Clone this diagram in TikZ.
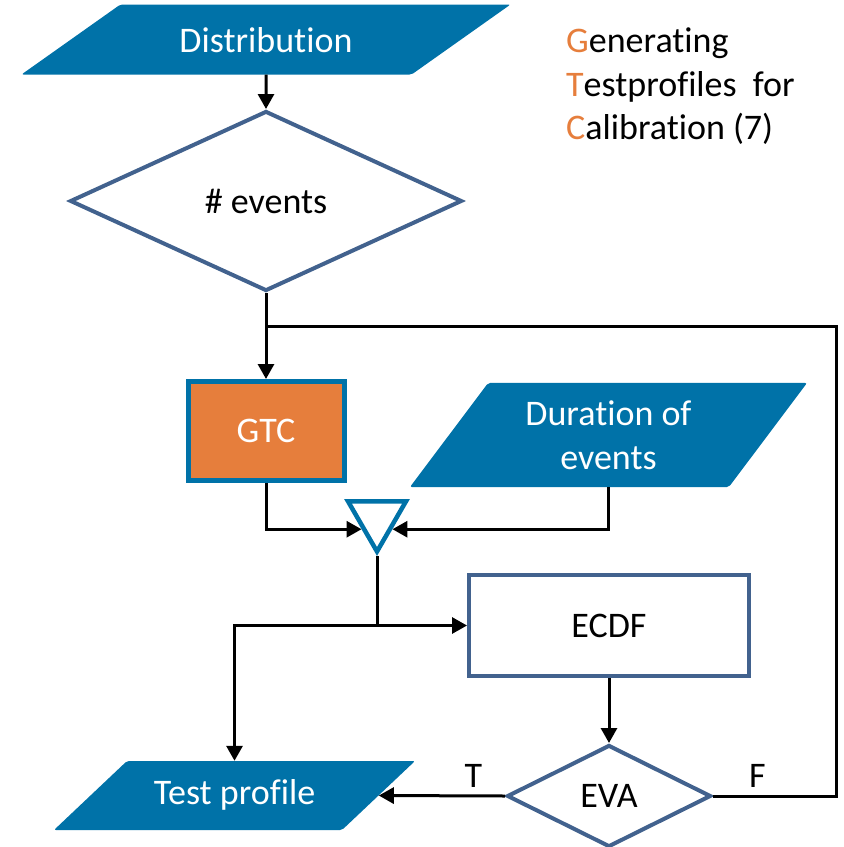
\documentclass[tikz,border=0pt]{standalone}
\usepackage{fontspec}
\setmainfont[Ligatures=NoCommon]{Carlito}
\usetikzlibrary{arrows.meta,shapes.geometric}
\usepackage{xcolor}

\definecolor{ppblue}{RGB}{0,114,168}
\definecolor{ppslate}{RGB}{66,98,142}
\definecolor{pporange}{RGB}{230,126,60}

\begin{document}
\begin{tikzpicture}[x=1pt, y=-1pt,
    every node/.style={
    inner sep=2pt,
    font=\fontsize{36}{44}\selectfont
},
    data/.style={trapezium, trapezium stretches body, fill=ppblue, text=white, rounded corners=2pt},
    decision/.style={diamond, draw=ppslate, line width=4pt, fill=white},
    process/.style={rectangle, draw=ppslate, line width=4pt, fill=white},
    flow/.style={line width=3pt, black},
    >={Triangle[length=15pt, width=16pt]}
]

    \useasboundingbox (0,0) rectangle (844,847);



    \node (distribution) [data, trapezium left angle=35.3, trapezium right angle=144.7,
        text height=25pt, text depth=0pt, inner ysep=22.5pt,
        minimum width=489pt, shift={(266, 39.5)}]
    {
        Distribution
    };

    \node (events) [decision, minimum width=392pt, minimum height=180pt, shift={(266, 201)}]
    {
        \# events
    };

    \node (title_g) [anchor=base west, inner sep=0pt, shift={(566, 52)}]
    {
        \textcolor{pporange}{G}enerating
    };

    \node (title_t) [anchor=base west, inner sep=0pt, shift={(566, 96)}]
    {
        \textcolor{pporange}{T}estprofiles\ \ for
    };

    \node (title_c) [anchor=base west, inner sep=0pt, shift={(566, 139)}]
    {
        \textcolor{pporange}{C}alibration (7)
    };





    \node (gtc) [process, draw=ppblue, fill=pporange, text=white, line width=5pt,
        minimum width=156pt, minimum height=99pt, shift={(266, 431)}]
    {
        GTC
    };

    \node (duration) [data, align=center, trapezium left angle=53.1, trapezium right angle=126.9,
        inner ysep=17.5pt, minimum width=397pt, shift={(608.5, 435)}]
    {
        Duration of\\ events
    };

    \node (merge) [regular polygon, regular polygon sides=3, shape border rotate=180,
        draw=ppblue, line width=4.5pt, fill=white, minimum size=67pt, inner sep=0pt, shift={(377, 518)}]
    {};

    \node (ecdf) [process, minimum width=280pt, minimum height=101pt, shift={(609, 625.5)}]
    {
        ECDF
    };

    \node (eva) [decision, minimum width=204pt, minimum height=102pt, shift={(609, 796)}]
    {
        EVA
    };

    \node (test_profile) [data, trapezium left angle=43.4, trapezium right angle=136.6,
        text height=25pt, text depth=7pt, inner ysep=18.5pt,
        minimum width=361pt, shift={(234.5, 795.5)}]
    {
        Test profile
    };


    \coordinate (turn) at (836, 326);
    \coordinate (join) at (events.south |- turn);
    \coordinate (split) at (merge.south |- ecdf.west);

    \draw[->, flow] (distribution.south) to (events.north);
    \draw[->, flow] (events.south) to (gtc.north);
    \draw[flow] (eva.east) -- node[above=7pt, pos=0.36, inner sep=0pt] (f_label) {F} (eva.east -| turn) -- (turn) -- (join);
    \draw[->, flow] (gtc.south) |- (merge.216);
    \draw[->, flow] (duration.south) |- (merge.324);
    \draw[flow] (merge.south) to (split);
    \draw[->, flow] (split) to (ecdf.west);
    \draw[->, flow] (split) -| (test_profile.north);
    \draw[->, flow] (ecdf.south) to (eva.north);
    \draw[->, flow] (eva.west) -- node[above=7pt, pos=0.25, inner sep=0pt] (t_label) {T} (test_profile.east);


\end{tikzpicture}
\end{document}
